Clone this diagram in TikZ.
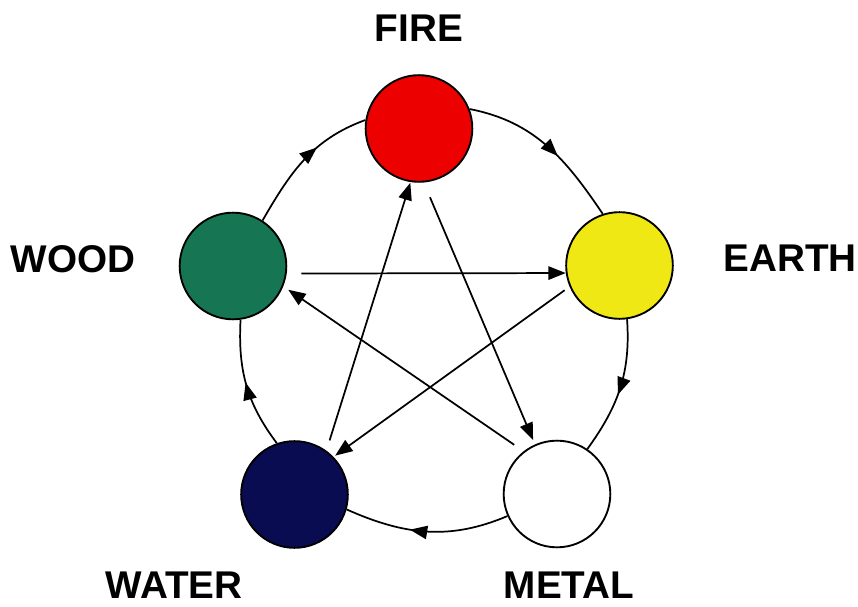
\documentclass[tikz,border=0pt]{standalone}
\usepackage{fontspec}
\setmainfont{Liberation Sans}
\usetikzlibrary{arrows.meta,decorations.markings}
\definecolor{firered}{RGB}{236,0,0}
\definecolor{earthyellow}{RGB}{240,232,20}
\definecolor{woodgreen}{RGB}{22,118,84}
\definecolor{waternavy}{RGB}{10,12,82}
\tikzset{
  element/.style={circle, draw=black, line width=1.4pt, minimum size=80pt, inner sep=0pt},
  label text/.style={font=\fontsize{29}{29}\selectfont\bfseries, inner sep=0pt},
  conn/.style={line width=1.3pt},
  arrowconn/.style={conn, -{Triangle[length=13pt,width=10pt]}},
  midarrow/.style={conn, postaction={decorate}, decoration={markings,
      mark=at position #1 with {\arrow{Triangle[length=13pt,width=10pt]}}}}
}
\begin{document}
\begin{tikzpicture}[x=0.75pt,y=0.75pt]
\useasboundingbox (0,0) rectangle (858,607);
% elements
\node[element, fill=firered]     (fire)  at (419,478.5) {};
\node[element, fill=earthyellow] (earth) at (619.5,341.5) {};
\node[element, fill=white]       (metal) at (557,113) {};
\node[element, fill=waternavy]   (water) at (294.5,112.5) {};
\node[element, fill=woodgreen]   (wood)  at (233,341) {};
% labels
\node[label text] (lfire)  at (419,579) {FIRE};
\node[label text] (lwood)  at (73,348) {WOOD};
\node[label text] (learth) at (790,349) {EARTH};
\node[label text] (lwater) at (174,22) {WATER};
\node[label text] (lmetal) at (569,22) {METAL};
% generating cycle (outer arcs)
\draw[midarrow=0.58] (fire.21) to[out=-11,in=124] (earth.108);
\draw[midarrow=0.55] (earth.-82) to[out=-86,in=54] (metal.56);
\draw[midarrow=0.6] (metal.204) to[out=203,in=-24] (water.-16);
\draw[midarrow=0.52] (water.109) to[out=127,in=-93] (wood.-82);
\draw[midarrow=0.62] (wood.57) to[out=60,in=200] (fire.171);
% controlling cycle (star)
\draw[arrowconn, shorten <=11pt] (wood.-8) -- (earth.188);
\draw[arrowconn, shorten <=4.5pt, shorten >=1.5pt] (earth.203) -- (water.44);
\draw[arrowconn, shorten <=12pt, shorten >=3.5pt] (fire.275) -- (metal.114);
\draw[arrowconn, shorten <=8.5pt, shorten >=4.5pt] (metal.128) -- (wood.-22);
\draw[arrowconn, shorten <=8pt, shorten >=0.5pt] (water.54) -- (fire.261);
\end{tikzpicture}
\end{document}
